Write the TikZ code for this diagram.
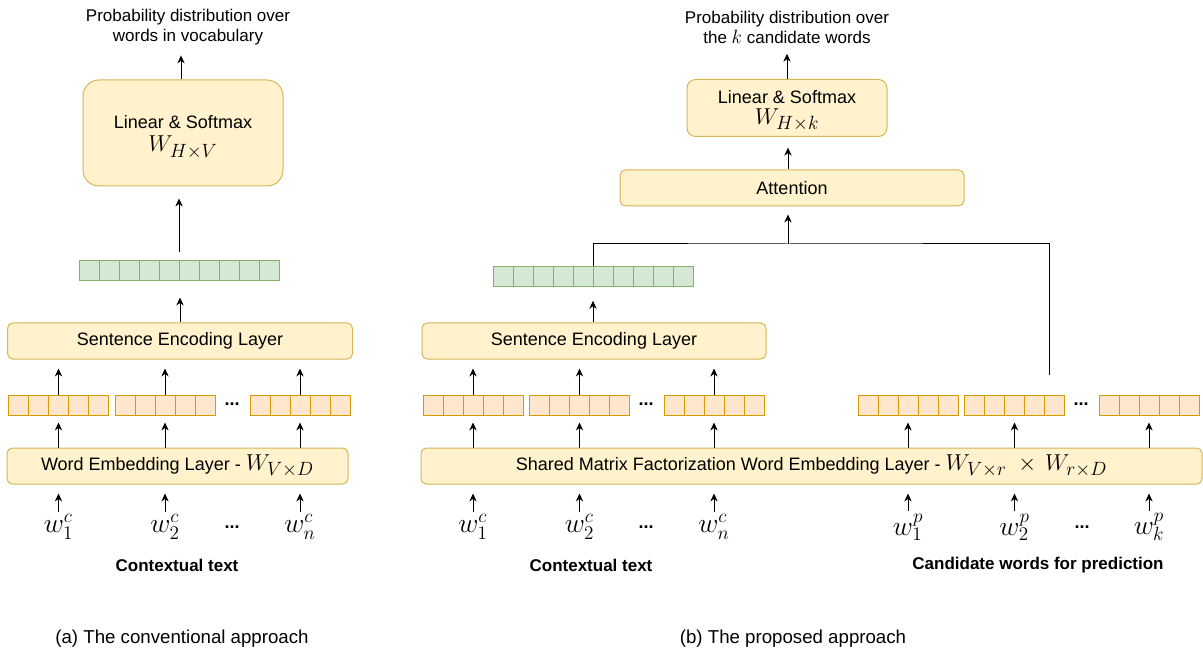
\documentclass[tikz,border=0pt]{standalone}
\usepackage{fontspec}
\setmainfont{Liberation Sans}
\usetikzlibrary{arrows.meta,calc}
\definecolor{yfill}{HTML}{FFF2CC}
\definecolor{ystr}{HTML}{D6B656}
\definecolor{ofill}{HTML}{FFE6CC}
\definecolor{ostr}{HTML}{D79B00}
\definecolor{gfill}{HTML}{D5E8D4}
\definecolor{gstr}{HTML}{82B366}
\newcommand\mfs{\fontsize{19}{21}\selectfont}
\newcommand\bxfs{\fontsize{13.5}{16}\selectfont}
\begin{document}
\begin{tikzpicture}[x=0.75pt,y=-0.75pt,line width=0.75pt,
  arr/.style={-{Stealth[length=6pt,width=5.5pt]}},
  ybox/.style={draw=ystr,fill=yfill,inner sep=0pt,font=\bxfs,align=center},
  lbox/.style={ybox,rounded corners=4pt,minimum height=27pt},
  ovec/.style={draw=ostr,fill=ofill,minimum width=75pt,minimum height=15pt,inner sep=0pt,
    path picture={\foreach \k in {1,...,4}{\draw[ostr] ([xshift=\k*15pt]path picture bounding box.north west) -- ([xshift=\k*15pt]path picture bounding box.south west);}}},
  gvec/.style={draw=gstr,fill=gfill,minimum width=150pt,minimum height=15pt,inner sep=0pt,
    path picture={\foreach \k in {1,...,9}{\draw[gstr] ([xshift=\k*15pt]path picture bounding box.north west) -- ([xshift=\k*15pt]path picture bounding box.south west);}}},
  ttl/.style={font=\fontsize{12.75}{15}\selectfont,align=center,inner sep=0pt},
  tok/.style={inner sep=0pt,font=\fontsize{20}{22}\selectfont},
  dotsn/.style={inner sep=0pt,font=\bfseries\bxfs},
  lbl/.style={inner sep=0pt,font=\bfseries\fontsize{12.75}{15}\selectfont},
  capt/.style={inner sep=0pt,font=\fontsize{14}{17}\selectfont}]
\useasboundingbox (0,0) rectangle (1203,652);

% ---------------- (a) ----------------
\node[ttl] (titleL) at (188,27) {Probability distribution over\\words in vocabulary};
\node[ybox,rounded corners=12pt,minimum width=150pt,minimum height=79.5pt] (linL) at (183,133)
  {\rule{0pt}{16pt}Linear \& Softmax\\[1.5pt]{\mfs$W_{H\times V}$}};
\node[gvec] (gL) at (179,271) {};
\node[lbox,minimum width=258.75pt] (sentL) at (180,341) {Sentence Encoding Layer};
\node[ovec] (oL1) at (58.5,405) {};
\node[ovec] (oL2) at (165,405) {};
\node[dotsn] (dvL) at (232,404) {...};
\node[ovec] (oL3) at (300,405) {};
\node[lbox,minimum width=255.75pt] (wordL) at (177.5,466) {Word Embedding Layer - {\mfs$W_{V\times D}$}};
\node[tok] (tL1) at (58.5,527) {$w^{c}_{1}$};
\node[tok] (tL2) at (165,527) {$w^{c}_{2}$};
\node[dotsn] (dtL) at (232,527) {...};
\node[tok] (tL3) at (300,527) {$w^{c}_{n}$};
\node[lbl] (ctxL) at (177,565) {Contextual text};
\node[capt] (capA) at (182,639) {(a) The conventional approach};

\draw[arr,shorten >=7.5pt] (linL.north -| 181,0) -- (titleL.south -| 181,0);
\draw[arr,shorten <=6pt,shorten >=9pt] (gL.north) -- (linL.south -| gL.north);
\draw[arr,shorten >=12pt] (sentL.north) -- (gL.south -| sentL.north);
\foreach \v/\t in {oL1/tL1,oL2/tL2,oL3/tL3}{
  \draw[arr,shorten <=1.5pt,shorten >=6.75pt] (\t.north) -- (wordL.south -| \t.north);
  \draw[arr,shorten >=5.25pt] (wordL.north -| \v.south) -- (\v.south);
  \draw[arr,shorten >=6.75pt] (\v.north) -- (sentL.south -| \v.north);
}

% ---------------- (b) ----------------
\node[ttl] (titleR) at (787,27) {Probability distribution over\\the {\fontsize{15}{18}\selectfont$k$} candidate words};
\node[ybox,rounded corners=6.5pt,minimum width=150pt,minimum height=42.75pt] (linR) at (787,108)
  {\rule{0pt}{14pt}Linear \& Softmax\\{\mfs$W_{H\times k}$}};
\node[lbox,minimum width=258pt] (att) at (792,188) {Attention};
\node[gvec] (gR) at (593,277) {};
\node[lbox,minimum width=258pt] (sentR) at (594,341) {Sentence Encoding Layer};
\node[ovec] (oR1) at (473,405) {};
\node[ovec] (oR2) at (579.5,405) {};
\node[dotsn] (dvR) at (646,404) {...};
\node[ovec] (oR3) at (714,405) {};
\node[ovec] (cR1) at (908,405) {};
\node[ovec] (cR2) at (1014.5,405) {};
\node[dotsn] (dvC) at (1081,404) {...};
\node[ovec] (cR3) at (1149,405) {};
\node[lbox,minimum width=585.75pt] (shared) at (811.5,466)
  {Shared Matrix Factorization Word Embedding Layer - {\mfs$W_{V\times r}\;\times\, W_{r\times D}$}};
\node[tok] (tR1) at (473,527) {$w^{c}_{1}$};
\node[tok] (tR2) at (579.5,527) {$w^{c}_{2}$};
\node[dotsn] (dtR) at (646,527) {...};
\node[tok] (tR3) at (714,527) {$w^{c}_{n}$};
\node[tok] (tP1) at (908,527) {$w^{p}_{1}$};
\node[tok] (tP2) at (1014.5,527) {$w^{p}_{2}$};
\node[dotsn] (dtP) at (1082,527) {...};
\node[tok] (tP3) at (1149,527) {$w^{p}_{k}$};
\node[lbl] (ctxR) at (591,565) {Contextual text};
\node[lbl] (candL) at (1038,565) {Candidate words for prediction};
\node[capt] (capB) at (793,639) {(b) The proposed approach};

\coordinate (jn) at (788,244);
\coordinate (candtop) at (1049,375);
\draw[arr,shorten >=7.5pt] (linR.north) -- (titleR.south -| linR.north);
\draw[arr,shorten >=8pt] (att.north -| jn) -- (linR.south -| jn);
\draw[arr,shorten >=6pt] (jn) -- (att.south -| jn);
\draw (gR.north) |- (jn) -| (candtop);
\draw[arr,shorten >=10pt] (sentR.north -| gR.north) -- (gR.south);
\foreach \v/\t in {oR1/tR1,oR2/tR2,oR3/tR3}{
  \draw[arr,shorten <=1.5pt,shorten >=6.75pt] (\t.north) -- (shared.south -| \t.north);
  \draw[arr,shorten >=5.25pt] (shared.north -| \v.south) -- (\v.south);
  \draw[arr,shorten >=6.75pt] (\v.north) -- (sentR.south -| \v.north);
}
\foreach \v/\t in {cR1/tP1,cR2/tP2,cR3/tP3}{
  \draw[arr,shorten <=1.5pt,shorten >=6.75pt] (\t.north) -- (shared.south -| \t.north);
  \draw[arr,shorten >=5.25pt] (shared.north -| \v.south) -- (\v.south);
}
\end{tikzpicture}
\end{document}
